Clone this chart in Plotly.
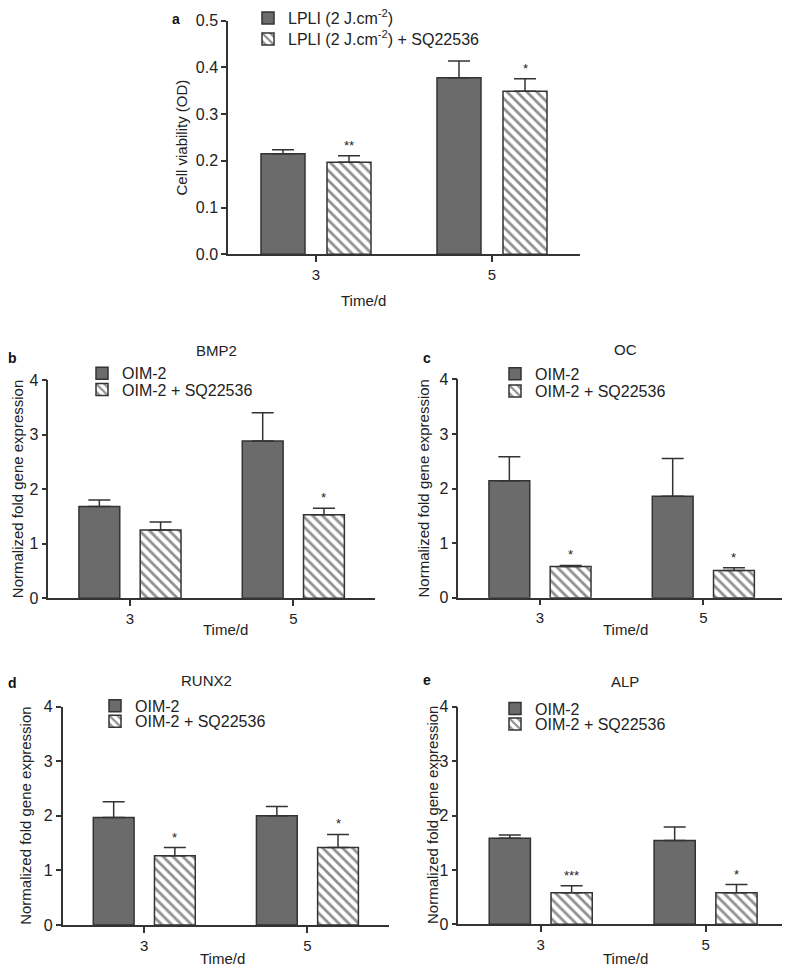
import plotly.graph_objects as go

W, H = 790, 970
PAGE_OFF = 8  # default body margin of the html page
FONT = "Arial, Liberation Sans, sans-serif"
DARK = "#6b6b6b"
LINE = "#333333"
TXT = "#222222"

categories = ["3", "5"]

# Panel a
a_lpli = [0.215, 0.378]
a_lpli_err = [0.009, 0.036]
a_sq = [0.197, 0.349]
a_sq_err = [0.014, 0.027]
a_stars = ["**", "*"]

# Panels b-e
genes = ["BMP2", "OC", "RUNX2", "ALP"]
letters = ["b", "c", "d", "e"]
oim = {"BMP2": [1.68, 2.88], "OC": [2.14, 1.86], "RUNX2": [1.97, 2.00], "ALP": [1.58, 1.54]}
oim_err = {"BMP2": [0.12, 0.52], "OC": [0.44, 0.69], "RUNX2": [0.29, 0.17], "ALP": [0.06, 0.25]}
oim_sq = {"BMP2": [1.25, 1.53], "OC": [0.57, 0.50], "RUNX2": [1.27, 1.42], "ALP": [0.58, 0.58]}
oim_sq_err = {"BMP2": [0.15, 0.12], "OC": [0.02, 0.05], "RUNX2": [0.15, 0.24], "ALP": [0.13, 0.15]}
stars = {"BMP2": ["", "*"], "OC": ["*", "*"], "RUNX2": ["*", "*"], "ALP": ["***", "*"]}

BARGAP = 0.25
OFFSET = (1 - BARGAP) / 4

# layout geometry in screen pixels: (x0, x1, ybottom, ytop)
panels = {
    "a": (228, 580, 254.3, 20.7),
    "BMP2": (48.3, 375, 598.3, 380),
    "OC": (458.3, 785, 597.7, 379.3),
    "RUNX2": (62.7, 389, 925, 706.7),
    "ALP": (458.3, 788, 924.3, 706.7),
}
# legend symbol centre x, row centres y
legend_pos = {
    "a": (268, [18, 39]),
    "BMP2": (102, [373.3, 389.7]),
    "OC": (515, [373.8, 391]),
    "RUNX2": (115, [705.8, 721.3]),
    "ALP": (515, [708.5, 724]),
}
title_pos = {"BMP2": (216.7, 350), "OC": (625, 349), "RUNX2": (206.7, 680), "ALP": (625, 681.7)}
letter_pos = {"a": (176, 19), "BMP2": (12, 358), "OC": (426.7, 358), "RUNX2": (12.5, 683), "ALP": (426.7, 680)}
ytitle_x = {"a": 181, "BMP2": 17, "OC": 423, "RUNX2": 26, "ALP": 432.5}
xtitle_pos = {"a": (363, 300), "BMP2": (225.7, 629), "OC": (625, 629), "RUNX2": (222.3, 958.3), "ALP": (625.7, 958.3)}

fig = go.Figure()
annotations = []
layout_extra = {}


def px(x):
    return (x - PAGE_OFF) / W


def py(y):
    return 1 - (y - PAGE_OFF) / H


def add_panel(idx, key, v1, e1, v2, e2, names, st, yrange, dtick, tickformat):
    ax = "" if idx == 1 else str(idx)
    legs = []
    for j in range(2):
        n = 2 * (idx - 1) + j + 1
        legs.append("legend" if n == 1 else f"legend{n}")
    fig.add_trace(go.Bar(
        x=categories, y=v1, name=names[0], xaxis="x" + ax, yaxis="y" + ax, legend=legs[0],
        showlegend=True,
        marker=dict(color=DARK, line=dict(color=LINE, width=1.5)),
        error_y=dict(type="data", array=e1, arrayminus=[0] * len(e1), symmetric=False,
                     color=LINE, thickness=1.5, width=11),
    ))
    fig.add_trace(go.Bar(
        x=categories, y=v2, name=names[1], xaxis="x" + ax, yaxis="y" + ax, legend=legs[1],
        showlegend=True,
        marker=dict(color="white", line=dict(color=LINE, width=1.5),
                    pattern=dict(shape="\\", fgcolor="#222222", bgcolor="white", size=7, solidity=0.4)),
        error_y=dict(type="data", array=e2, arrayminus=[0] * len(e2), symmetric=False,
                     color=LINE, thickness=1.5, width=11),
    ))
    x0, x1, yb, yt = panels[key]
    common_line = dict(showline=True, linecolor=LINE, linewidth=1.5, ticks="outside",
                       tickcolor=LINE, tickwidth=1.5, showgrid=False, zeroline=False)
    layout_extra["xaxis" + ax] = dict(domain=[px(x0), px(x1)], anchor="y" + ax, type="category",
                                      range=[-0.5, 1.5], ticklen=6, tickfont=dict(size=15, color=TXT),
                                      **common_line)
    layout_extra["yaxis" + ax] = dict(domain=[py(yb), py(yt)], anchor="x" + ax, range=yrange, dtick=dtick,
                                      tickformat=tickformat, ticklen=5, tickfont=dict(size=16, color=TXT),
                                      **common_line)
    sx, rows = legend_pos[key]
    for j in range(2):
        layout_extra[legs[j]] = dict(x=px(sx - 20), y=py(rows[j]), xanchor="left", yanchor="middle",
                                     bgcolor="rgba(0,0,0,0)", borderwidth=0, visible=True,
                                     font=dict(size=16, color=TXT, family=FONT), itemclick=False)
    annotations.append(dict(text=("Cell viability (OD)" if key == "a" else "Normalized fold gene expression"),
                            x=px(ytitle_x[key]), y=py((yb + yt) / 2), xref="paper", yref="paper",
                            xanchor="center", yanchor="middle",
                            textangle=-90, showarrow=False, font=dict(size=15, color=TXT)))
    tx, ty = xtitle_pos[key]
    annotations.append(dict(text="Time/d", x=px(tx), y=py(ty), xref="paper", yref="paper",
                            xanchor="center", yanchor="middle", showarrow=False,
                            font=dict(size=15, color=TXT)))
    for i, s in enumerate(st):
        if s:
            annotations.append(dict(text=s, x=i + OFFSET, y=v2[i] + e2[i], xref="x" + ax, yref="y" + ax,
                                    xanchor="center", yanchor="bottom", showarrow=False, yshift=1,
                                    font=dict(size=13, color=TXT)))
    lx, ly = letter_pos[key]
    annotations.append(dict(text=f"<b>{'a' if key == 'a' else letters[genes.index(key)]}</b>",
                            x=px(lx), y=py(ly), xref="paper", yref="paper", showarrow=False,
                            xanchor="center", yanchor="middle",
                            font=dict(size=14, color="#111")))
    if key in title_pos:
        tx, ty = title_pos[key]
        annotations.append(dict(text=key, x=px(tx), y=py(ty), xref="paper", yref="paper",
                                xanchor="center", yanchor="middle",
                                showarrow=False, font=dict(size=15, color=TXT)))


add_panel(1, "a", a_lpli, a_lpli_err, a_sq, a_sq_err,
          ["LPLI (2 J.cm<sup>-2</sup>)", "LPLI (2 J.cm<sup>-2</sup>) + SQ22536"], a_stars,
          [0, 0.5], 0.1, ".1f")
for k, g in enumerate(genes):
    add_panel(k + 2, g, oim[g], oim_err[g], oim_sq[g], oim_sq_err[g],
              ["OIM-2", "OIM-2 + SQ22536"], stars[g], [0, 4], 1, "d")

fig.update_layout(
    width=W, height=H, margin=dict(l=0, r=0, t=0, b=0, autoexpand=False),
    paper_bgcolor="white", plot_bgcolor="white",
    font=dict(family=FONT, color=TXT),
    showlegend=True,
    barmode="group", bargap=BARGAP, bargroupgap=1 / 3,
    annotations=annotations,
    **layout_extra,
)

fig.write_html("out.html")
